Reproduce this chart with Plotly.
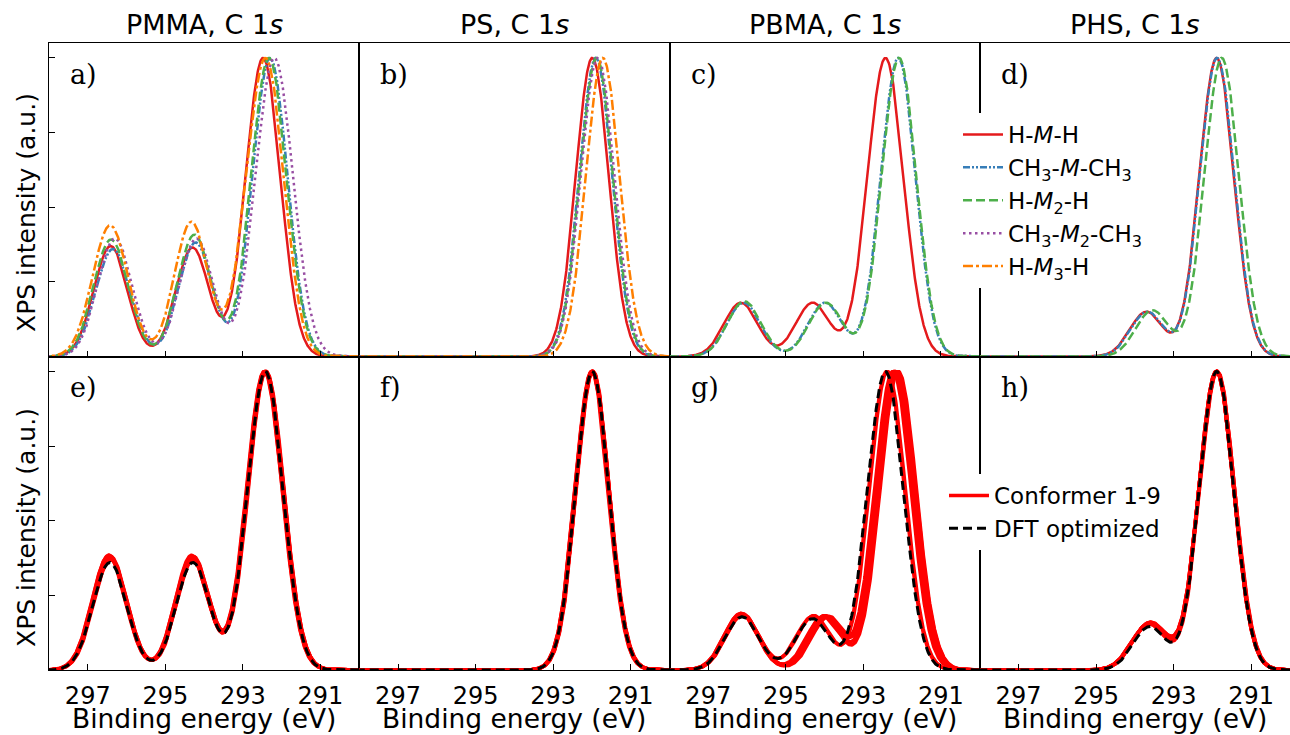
import numpy as np
import plotly.graph_objects as go
from plotly.subplots import make_subplots

# ---------------- data ----------------
energy_range = [298.0, 290.0]          # binding energy axis (reversed)
x_ticks = [297, 295, 293, 291]
y_ticks = [0, 0.25, 0.5, 0.75, 1.0]

column_titles = ["PMMA, C 1<i>s</i>", "PS, C 1<i>s</i>", "PBMA, C 1<i>s</i>", "PHS, C 1<i>s</i>"]
top_panel_labels = ["a)", "b)", "c)", "d)"]
bottom_panel_labels = ["e)", "f)", "g)", "h)"]

model_names = ["H-<i>M</i>-H", "CH<sub>3</sub>-<i>M</i>-CH<sub>3</sub>", "H-<i>M</i><sub>2</sub>-H",
               "CH<sub>3</sub>-<i>M</i><sub>2</sub>-CH<sub>3</sub>", "H-<i>M</i><sub>3</sub>-H"]

# peaks: (centre eV, relative height, FWHM eV)
pmma_models = [
    [(296.41, 0.370, 1.02), (294.30, 0.365, 1.00), (292.48, 1.000, 1.05)],
    [(296.35, 0.360, 1.05), (294.22, 0.382, 1.02), (292.30, 1.000, 1.06)],
    [(296.40, 0.392, 1.05), (294.25, 0.408, 1.02), (292.33, 1.000, 1.07)],
    [(296.30, 0.395, 1.05), (294.20, 0.395, 1.02), (292.19, 1.000, 1.13)],
    [(296.42, 0.456, 1.08), (294.33, 0.468, 1.02), (292.72, 0.420, 1.00), (292.28, 0.750, 1.00)],
]
ps_models = [
    [(291.99, 1.0, 1.00)],
    [(291.90, 1.0, 1.00)],
    [(291.88, 1.0, 1.00)],
    [(291.85, 1.0, 1.02)],
    [(291.72, 1.0, 1.02)],
]
pbma_models = [
    [(296.16, 0.180, 1.02), (294.31, 0.180, 1.02), (292.43, 1.000, 1.09)],
    [(296.09, 0.180, 1.02), (293.99, 0.180, 1.02), (292.10, 1.000, 1.05)],
    [(296.07, 0.185, 1.02), (293.97, 0.180, 1.02), (292.08, 1.000, 1.05)],
    None,
    None,
]
phs_models = [
    [(293.70, 0.150, 1.00), (291.89, 1.000, 1.05)],
    [(293.68, 0.150, 1.00), (291.88, 1.000, 1.05)],
    [(293.55, 0.155, 1.00), (291.76, 1.000, 1.05)],
    None,
    None,
]

pmma_dft = [(296.43, 0.360, 1.02), (294.29, 0.360, 1.00), (292.42, 1.000, 1.07)]
pmma_conformers = [
    [(296.44, 0.378, 1.02), (294.30, 0.375, 1.00), (292.43, 1.0, 1.08)],
    [(296.42, 0.372, 1.02), (294.28, 0.380, 1.00), (292.41, 1.0, 1.08)],
    [(296.45, 0.385, 1.02), (294.31, 0.370, 1.00), (292.44, 1.0, 1.08)],
    [(296.43, 0.380, 1.02), (294.29, 0.378, 1.00), (292.42, 1.0, 1.09)],
    [(296.41, 0.370, 1.02), (294.27, 0.372, 1.00), (292.40, 1.0, 1.08)],
    [(296.46, 0.383, 1.02), (294.32, 0.384, 1.00), (292.45, 1.0, 1.08)],
    [(296.44, 0.376, 1.02), (294.30, 0.368, 1.00), (292.41, 1.0, 1.09)],
    [(296.42, 0.381, 1.02), (294.29, 0.376, 1.00), (292.43, 1.0, 1.08)],
    [(296.43, 0.374, 1.02), (294.31, 0.382, 1.00), (292.42, 1.0, 1.08)],
]
ps_dft = [(291.99, 1.0, 1.00)]
ps_conformers = [
    [(291.98, 1.0, 1.00)], [(292.00, 1.0, 1.00)], [(291.99, 1.0, 1.01)],
    [(292.01, 1.0, 1.00)], [(291.97, 1.0, 1.00)], [(291.99, 1.0, 1.00)],
    [(292.00, 1.0, 1.01)], [(291.98, 1.0, 1.00)], [(291.99, 1.0, 1.00)],
]
pbma_dft = [(296.13, 0.178, 1.02), (294.31, 0.172, 1.02), (292.43, 1.000, 1.09)]
pbma_conformers = [
    [(296.14, 0.185, 1.02), (294.30, 0.180, 1.02), (292.40, 1.0, 1.09)],
    [(296.12, 0.188, 1.02), (294.28, 0.182, 1.02), (292.38, 1.0, 1.09)],
    [(296.13, 0.186, 1.02), (294.04, 0.178, 1.02), (292.24, 1.0, 1.10)],
    [(296.15, 0.190, 1.02), (293.98, 0.180, 1.02), (292.20, 1.0, 1.10)],
    [(296.11, 0.184, 1.02), (293.93, 0.176, 1.02), (292.17, 1.0, 1.10)],
    [(296.14, 0.187, 1.02), (294.00, 0.182, 1.02), (292.14, 1.0, 1.10)],
    [(296.12, 0.185, 1.02), (293.90, 0.179, 1.02), (292.12, 1.0, 1.11)],
    [(296.16, 0.189, 1.02), (293.96, 0.177, 1.02), (292.18, 1.0, 1.10)],
    [(296.13, 0.186, 1.02), (294.01, 0.181, 1.02), (292.10, 1.0, 1.10)],
]
phs_dft = [(293.62, 0.145, 1.00), (291.89, 1.000, 1.05)]
phs_conformers = [
    [(293.61, 0.158, 1.05), (291.89, 1.0, 1.06)],
    [(293.63, 0.155, 1.05), (291.88, 1.0, 1.06)],
    [(293.60, 0.160, 1.05), (291.90, 1.0, 1.06)],
    [(293.62, 0.157, 1.05), (291.89, 1.0, 1.06)],
    [(293.64, 0.154, 1.05), (291.87, 1.0, 1.06)],
    [(293.60, 0.159, 1.05), (291.90, 1.0, 1.06)],
    [(293.62, 0.156, 1.05), (291.88, 1.0, 1.06)],
    [(293.61, 0.158, 1.05), (291.89, 1.0, 1.06)],
    [(293.63, 0.155, 1.05), (291.90, 1.0, 1.06)],
]

# ---------------- helpers ----------------
energy = np.linspace(290.0, 298.0, 801)


def spectrum(peaks):
    y = np.zeros_like(energy)
    for c, h, w in peaks:
        s = w / 2.3548
        y += h * np.exp(-0.5 * ((energy - c) / s) ** 2)
    return y / y.max()


model_colors = ["#e41a1c", "#377eb8", "#4daf4a", "#984ea3", "#ff7f00"]
model_dashes = ["solid", "7px,2px,2px,2px,2px,2px", "9px,4px", "2.5px,3.5px", "10px,3px,3px,3px"]
FONT = "DejaVu Sans"

fig = make_subplots(rows=2, cols=4, horizontal_spacing=0, vertical_spacing=0)

top_sets = [pmma_models, ps_models, pbma_models, phs_models]
for col, models in enumerate(top_sets, start=1):
    for k, peaks in enumerate(models):
        if peaks is None:
            continue
        fig.add_trace(go.Scatter(
            x=energy, y=spectrum(peaks), mode="lines", name=model_names[k],
            line=dict(color=model_colors[k], dash=model_dashes[k], width=2.5),
            showlegend=(col == 1), legend="legend", hoverinfo="skip"), row=1, col=col)

bottom_sets = [(pmma_conformers, pmma_dft), (ps_conformers, ps_dft),
               (pbma_conformers, pbma_dft), (phs_conformers, phs_dft)]
for col, (confs, dft) in enumerate(bottom_sets, start=1):
    for j, peaks in enumerate(confs):
        fig.add_trace(go.Scatter(
            x=energy, y=spectrum(peaks), mode="lines", name="Conformer 1-9",
            line=dict(color="#ff0000", width=3.5),
            showlegend=(col == 1 and j == 0), legend="legend2", hoverinfo="skip"), row=2, col=col)
    fig.add_trace(go.Scatter(
        x=energy, y=spectrum(dft), mode="lines", name="DFT optimized",
        line=dict(color="black", dash="9px,5px", width=3),
        showlegend=(col == 1), legend="legend2", hoverinfo="skip"), row=2, col=col)

for r in (1, 2):
    for c in range(1, 5):
        fig.update_xaxes(row=r, col=c, range=energy_range, tickvals=x_ticks,
                         ticks="inside", ticklen=6, tickwidth=1, tickcolor="black",
                         showticklabels=(r == 2), ticklabelstandoff=4,
                         tickfont=dict(family=FONT, size=24, color="black"),
                         showline=True, linecolor="black", linewidth=1, mirror=True,
                         showgrid=False, zeroline=False)
        fig.update_yaxes(row=r, col=c, range=[0, 1.05], tickvals=y_ticks,
                         ticks=("inside" if c == 1 else ""), ticklen=6, tickwidth=1,
                         tickcolor="black", showticklabels=False,
                         showline=True, linecolor="black", linewidth=1, mirror=True,
                         showgrid=False, zeroline=False)

W, H = 1290, 735
ML, MR, MT, MB = 49, 0, 43, 65
PW, PH = W - ML - MR, H - MT - MB


def py(px):
    return (H - MB - px) / PH


def pxx(px):
    return (px - ML) / PW


ann = []
for c in range(4):
    ann.append(dict(text=column_titles[c], xref="paper", yref="paper", x=(c + 0.5) / 4, y=py(24),
                    xanchor="center", yanchor="middle", showarrow=False,
                    font=dict(family=FONT, size=27, color="black")))
    ann.append(dict(text="Binding energy (eV)", xref="paper", yref="paper", x=(c + 0.5) / 4, y=py(718),
                    xanchor="center", yanchor="middle", showarrow=False,
                    font=dict(family=FONT, size=26.5, color="black")))
for i, lab in enumerate(top_panel_labels + bottom_panel_labels):
    n = i + 1
    ax = "x" if n == 1 else f"x{n}"
    ay = "y" if n == 1 else f"y{n}"
    ann.append(dict(text=lab, xref=f"{ax} domain", yref=f"{ay} domain", x=0.062, y=0.90,
                    xanchor="left", yanchor="middle", showarrow=False,
                    font=dict(family="DejaVu Serif", size=27, color="black")))
for yc in (213, 528):
    ann.append(dict(text="XPS intensity (a.u.)", xref="paper", yref="paper", x=pxx(26), y=py(yc),
                    xanchor="center", yanchor="middle", textangle=-90, showarrow=False,
                    font=dict(family=FONT, size=25, color="black")))

fig.update_layout(
    width=W, height=H, margin=dict(l=ML, r=MR, t=MT, b=MB),
    paper_bgcolor="white", plot_bgcolor="white",
    font=dict(family=FONT, color="black"),
    annotations=ann,
    legend=dict(x=pxx(958), y=py(113), xanchor="left", yanchor="top", bgcolor="white",
                borderwidth=0, font=dict(family=FONT, size=23, color="black"),
                tracegroupgap=0, itemwidth=40),
    legend2=dict(x=pxx(944), y=py(474), xanchor="left", yanchor="top", bgcolor="white",
                 borderwidth=0, font=dict(family=FONT, size=23, color="black"),
                 tracegroupgap=0, itemwidth=40),
)

fig.write_html("out.html", config={"displayModeBar": False},
               post_script="document.body.style.margin='0';document.body.style.overflow='hidden';")
